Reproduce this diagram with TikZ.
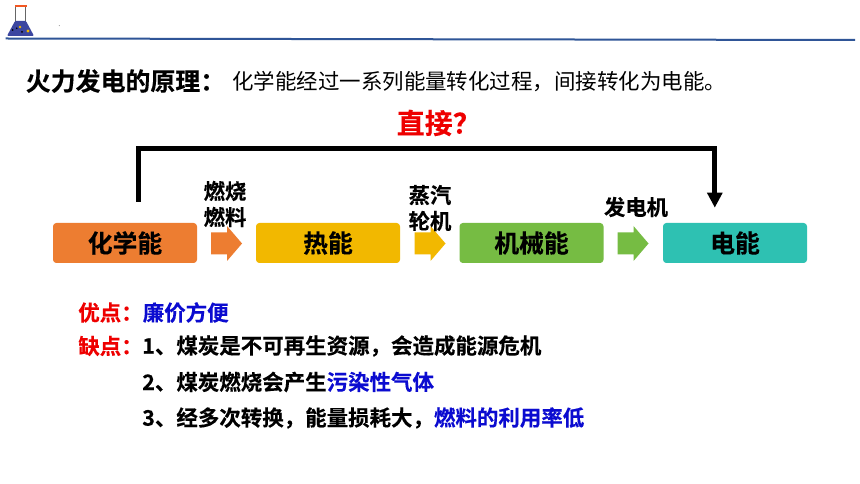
\documentclass[tikz,border=0pt]{standalone}
\usepackage{fontspec}
\setmainfont{Noto Sans CJK SC}
\newfontfamily\cjkb[FakeBold=0.25]{Noto Sans CJK SC Bold}
\newfontfamily\cjkr{Noto Sans CJK SC}
\usetikzlibrary{arrows.meta,calc}
\definecolor{cOrange}{HTML}{ED7D31}
\definecolor{cGold}{HTML}{F2B800}
\definecolor{cGreen}{HTML}{76BC43}
\definecolor{cTeal}{HTML}{2EC1B2}
\definecolor{cRule}{HTML}{2F5597}
\definecolor{cBlue}{HTML}{0B0BD0}
\definecolor{cRed}{HTML}{EE0000}
\definecolor{cFlask}{HTML}{3C46A0}
\tikzset{
  energy/.style={rounded corners=2.5pt,minimum width=108pt,minimum height=30pt,inner sep=0pt,font=\fontsize{18.6}{18.6}\selectfont\cjkb,text=black},
  proc/.style={font=\fontsize{16}{19.5}\selectfont\cjkb,align=center,inner sep=0pt,text=black},
  body/.style={anchor=west,inner sep=0pt,font=\fontsize{16.1}{16.1}\selectfont\cjkb,text=black},
}
\newcommand{\blockarrow}[3]{% left x, centre y, colour
  \fill[#3] (#1,#2-11) -- (#1+16,#2-11) -- (#1+16,#2-17.5) -- (#1+31,#2) -- (#1+16,#2+17.5) -- (#1+16,#2+11) -- (#1,#2+11) -- cycle;}
\begin{document}
\begin{tikzpicture}[x=0.75pt,y=-0.75pt]
\useasboundingbox (0,0) rectangle (860,484);
\fill[white] (0,0) rectangle (860,484);
% header rule and flask
\fill[cRule] (5.5,37.5) -- (855,39) -- (855,41) -- (5.5,39.5) -- cycle;
\draw[gray!80!black,line width=0.8pt,fill=white] (15.5,7) -- (15.5,22) -- (25.8,22) -- (25.8,7);
\fill[cFlask,rounded corners=0.8pt] (15,21) -- (26,21) -- (34,36) -- (7,36) -- cycle;
\fill[cOrange!70!red] (14.5,5) rectangle (26.5,7.5);
\fill[cGold] (20,27) circle (1.4);
\fill[cGold] (28,31) circle (1.7);
\fill[black] (12.7,30) circle (1);
\fill[black] (16.7,28.3) circle (0.9);
\fill[black] (22,32) circle (1);
\fill[gray] (59.3,25.7) circle (0.5);
% title
\node[anchor=west,inner sep=0pt,font=\fontsize{18.7}{18.7}\selectfont\cjkb] (title) at (25.5,81) {火力发电的原理：};
\node[anchor=west,inner sep=0pt,font=\fontsize{16.1}{16.1}\selectfont\cjkr] (subtitle) at (232,81.5) {化学能经过一系列能量转化过程，间接转化为电能。};
\node[anchor=west,font=\fontsize{21}{21}\selectfont\cjkb,text=cRed,inner sep=0pt] (direct) at (396.5,123) {直接？};
% energy boxes
\node[energy,fill=cOrange] (chem) at (125,243) {化学能};
\node[energy,fill=cGold] (heat) at (328,243) {热能};
\node[energy,fill=cGreen] (mech) at (531.5,243) {机械能};
\node[energy,fill=cTeal] (elec) at (735,243) {电能};
% block arrows
\blockarrow{211}{243.5}{cOrange}
\blockarrow{414.5}{243.5}{cGold}
\blockarrow{617.5}{243.5}{cGreen}
% process labels
\node[proc] (burn) at (225,204) {燃烧\\燃料};
\node[proc] (steam) at (430,208) {蒸汽\\轮机};
\node[proc] (gen) at (636,207) {发电机};
% bypass
\coordinate (from) at (138.5,201.7);
\coordinate (to) at (714.8,207.7);
\draw[line width=3.75pt,line cap=butt,-{Triangle[length=11.25pt,width=11pt]}] (from) |- ($(to)+(0,-58.7)$) -- (to);
% lists
\node[body,text=cRed] (adv) at (78,312.5) {优点：};
\node[body,text=cBlue] (advt) at (142.5,312.5) {廉价方便};
\node[body,text=cRed] (dis) at (78,346) {缺点：};
\node[body] (d1) at (142,346) {1、煤炭是不可再生资源，会造成能源危机};
\node[body] (d2) at (142,382) {2、煤炭燃烧会产生\textcolor{cBlue}{污染性气体}};
\node[body] (d3) at (142,418) {3、经多次转换，能量损耗大，\textcolor{cBlue}{燃料的利用率低}};
\end{tikzpicture}
\end{document}
